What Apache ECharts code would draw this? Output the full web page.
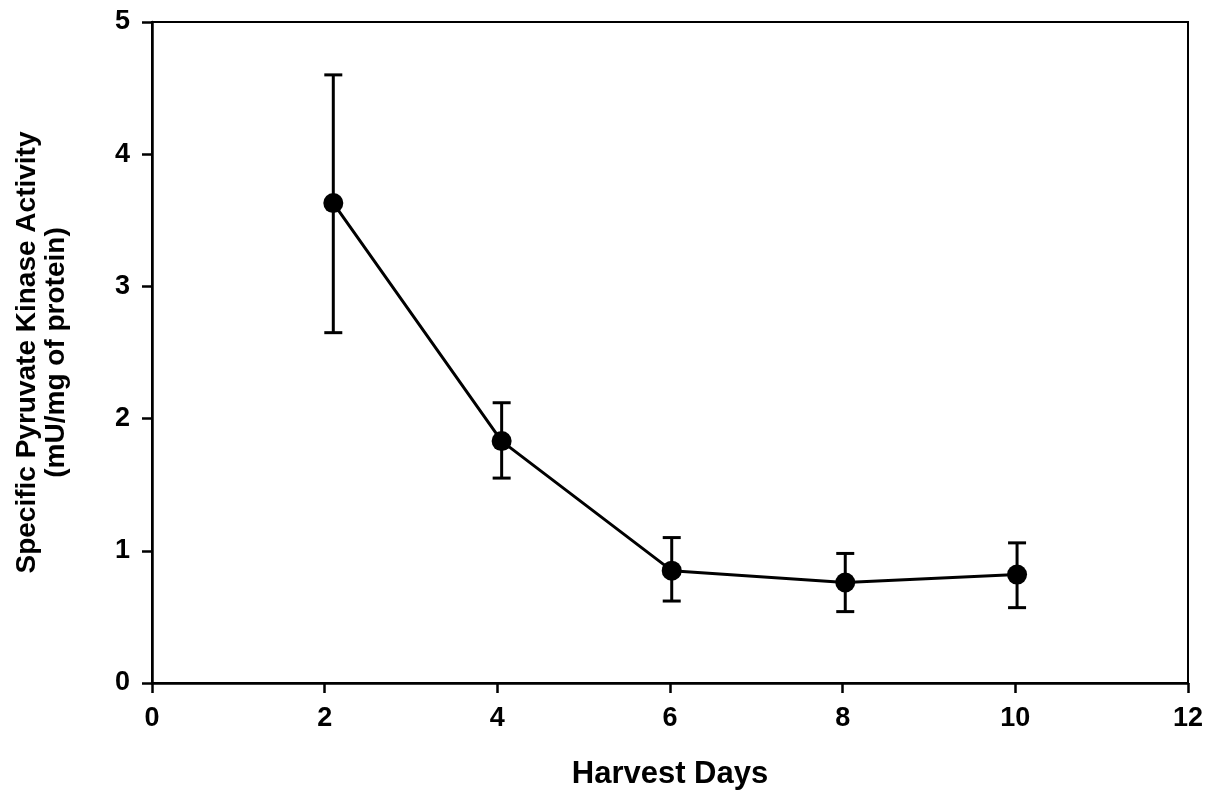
<!DOCTYPE html>
<html>
<head>
<meta charset="utf-8">
<script src="https://cdn.jsdelivr.net/npm/echarts@6/dist/echarts.min.js"></script>
<style>html,body{margin:0;padding:0;background:#fff;}#c{width:1208px;height:799px;}</style>
</head>
<body>
<div id="c"></div>
<script>
const harvestDays = [2.1, 4.05, 6.02, 8.03, 10.02];
const activity = [3.63, 1.83, 0.85, 0.76, 0.82];
const errLow = [2.65, 1.55, 0.62, 0.54, 0.57];
const errHigh = [4.60, 2.12, 1.10, 0.98, 1.06];
const xTicks = [0, 2, 4, 6, 8, 10, 12];
const yTicks = [0, 1, 2, 3, 4, 5];

const font = 'Liberation Sans, Arial, sans-serif';
const chart = echarts.init(document.getElementById('c'));
chart.setOption({
  animation: false,
  backgroundColor: '#fff',
  grid: { left: 152, right: 20, top: 22, bottom: 116, show: true, borderColor: '#000', borderWidth: 2, containLabel: false },
  xAxis: {
    type: 'value', min: xTicks[0], max: xTicks[xTicks.length - 1], interval: 2,
    name: 'Harvest Days', nameLocation: 'middle', nameGap: 76,
    nameTextStyle: { fontFamily: font, fontWeight: 'bold', fontSize: 31, color: '#000' },
    axisLine: { lineStyle: { color: '#000', width: 2.5 } },
    axisTick: { show: true, inside: false, length: 10, lineStyle: { color: '#000', width: 2.5 } },
    axisLabel: { fontFamily: font, fontWeight: 'bold', fontSize: 27, color: '#000', margin: 22 },
    splitLine: { show: false }
  },
  yAxis: {
    type: 'value', min: yTicks[0], max: yTicks[yTicks.length - 1], interval: 1,
    name: 'Specific Pyruvate Kinase Activity\n(mU/mg of protein)', nameLocation: 'middle', nameGap: 81,
    nameTextStyle: { fontFamily: font, fontWeight: 'bold', fontSize: 28, color: '#000', lineHeight: 29 },
    axisLine: { lineStyle: { color: '#000', width: 2.5 } },
    axisTick: { show: true, inside: false, length: 10, lineStyle: { color: '#000', width: 2.5 } },
    axisLabel: { fontFamily: font, fontWeight: 'bold', fontSize: 27, color: '#000', margin: 22 },
    splitLine: { show: false }
  },
  series: [
    {
      type: 'line',
      data: harvestDays.map((d, i) => [d, activity[i]]),
      symbol: 'circle', symbolSize: 20,
      itemStyle: { color: '#000' },
      lineStyle: { color: '#000', width: 3 },
      z: 3
    },
    {
      type: 'custom',
      data: harvestDays.map((d, i) => [d, errLow[i], errHigh[i]]),
      renderItem: function (params, api) {
        const x = api.value(0);
        const lo = api.coord([x, api.value(1)]);
        const hi = api.coord([x, api.value(2)]);
        const w = 9;
        const style = { stroke: '#000', lineWidth: 3 };
        return {
          type: 'group',
          children: [
            { type: 'line', shape: { x1: lo[0], y1: lo[1], x2: hi[0], y2: hi[1] }, style: style },
            { type: 'line', shape: { x1: lo[0] - w, y1: lo[1], x2: lo[0] + w, y2: lo[1] }, style: style },
            { type: 'line', shape: { x1: hi[0] - w, y1: hi[1], x2: hi[0] + w, y2: hi[1] }, style: style }
          ]
        };
      },
      z: 2
    }
  ]
});
</script>
</body>
</html>
